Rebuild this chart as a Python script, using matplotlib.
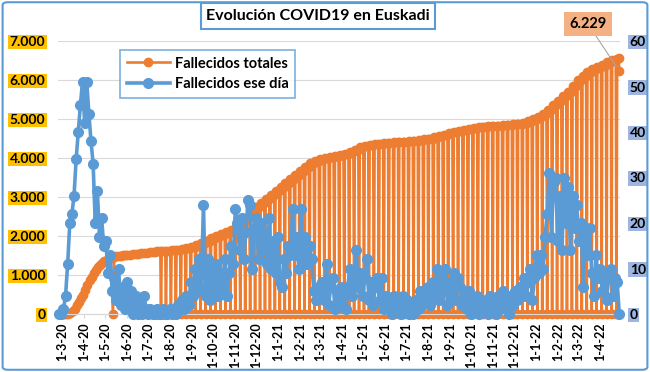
import matplotlib
matplotlib.use("Agg")
import matplotlib.pyplot as plt
from matplotlib.patches import FancyBboxPatch
import pandas as pd

plt.rcParams['font.family'] = ['Lato', 'DejaVu Sans']

# --- Fallecidos totales (eje izquierdo) ---
# primeros meses: dato diario continuo
fechas_inicio = ["2020-02-26", "2020-03-01", "2020-03-04", "2020-03-07", "2020-03-10",
                 "2020-03-13", "2020-03-16", "2020-03-19", "2020-03-22", "2020-03-25",
                 "2020-03-28", "2020-03-31", "2020-04-03", "2020-04-06", "2020-04-09",
                 "2020-04-12", "2020-04-15", "2020-04-18", "2020-04-21", "2020-04-24",
                 "2020-04-27", "2020-04-30", "2020-05-03", "2020-05-06", "2020-05-09",
                 "2020-05-12", "2020-05-14", "2020-05-17", "2020-05-20", "2020-05-23",
                 "2020-05-26", "2020-05-29", "2020-06-01", "2020-06-05", "2020-06-09",
                 "2020-06-13", "2020-06-17", "2020-06-21", "2020-06-25", "2020-06-29",
                 "2020-07-03", "2020-07-07", "2020-07-11"]
total_inicio = [0, 0, 0, 3, 12,
                35, 75, 140, 220, 310,
                400, 500, 620, 750, 860,
                960, 1050, 1130, 1200, 1260,
                1310, 1360, 1390, 1415, 1435,
                0, 1460, 1475, 1485, 1495,
                1505, 1510, 1515, 1520, 1530,
                1540, 1550, 1560, 1570, 1575,
                1585, 1595, 1600]

# desde julio 2020: un valor por semana (lunes a sabado), domingo sin dato -> 0
primer_lunes = "2020-07-13"
total_semanal = [1605, 1612, 1620, 1630, 1645, 1665, 1690, 1725, 1770, 1820,
                 1880, 1940, 1990, 2040, 2090, 2160, 2230, 2350, 2470, 2600,
                 2740, 2840, 2940, 3040, 3150, 3250, 3350, 3450, 3560, 3660,
                 3770, 3860, 3920, 3965, 3995, 4025, 4050, 4075, 4110, 4160,
                 4210, 4270, 4310, 4340, 4360, 4370, 4380, 4390, 4400, 4410,
                 4420, 4430, 4445, 4460, 4480, 4500, 4530, 4565, 4600, 4635,
                 4670, 4705, 4730, 4755, 4770, 4785, 4800, 4810, 4820, 4830,
                 4840, 4850, 4860, 4880, 4905, 4940, 4990, 5050, 5130, 5230,
                 5350, 5460, 5580, 5700, 5840, 5990, 6100, 6200, 6270, 6330,
                 6390, 6450, 6510]

fechas_final = ["2022-04-25", "2022-04-27", "2022-04-28"]
total_final = [6550, 6570, 6229]

# --- Fallecidos ese dia (eje derecho), un valor cada 3 dias desde 26-2-20 ---
inicio_dia = "2020-02-26"
fallecidos_dia = [
    0, 0, 1, 4, 11, 20, 22, 26, 34, 40, 46, 51, 42, 51, 44, 38, 33, 20, 27, 17,
    21, 15, 16, 9, 13, 5, 8, 3, 10, 2, 6, 1, 7, 2, 5, 0, 4, 0, 2, 0,
    4, 1, 0, 1, 0, 0, 1, 0, 0, 1, 0, 0, 1, 0, 1, 0, 2, 1, 3, 1,
    4, 2, 7, 4, 10, 5, 12, 6, 24, 4, 12, 3, 10, 5, 11, 4, 9, 6, 12, 4,
    9, 15, 11, 23, 20, 14, 21, 12, 18, 25, 24, 10, 19, 21, 12, 20, 14, 18, 11, 21,
    10, 16, 9, 17, 7, 6, 12, 9, 15, 13, 23, 13, 17, 10, 23, 12, 17, 11, 15, 12,
    5, 3, 6, 4, 7, 3, 11, 2, 6, 8, 1, 5, 2, 6, 4, 1, 6, 10, 4, 8,
    14, 6, 9, 4, 8, 12, 3, 7, 2, 6, 8, 3, 8, 1, 4, 2, 3, 0, 4, 1,
    3, 0, 4, 1, 3, 0, 2, 0, 3, 1, 5, 2, 5, 3, 6, 2, 7, 4, 10, 3,
    9, 5, 10, 2, 7, 4, 9, 3, 8, 6, 2, 5, 1, 5, 0, 3, 1, 4, 0, 3,
    1, 3, 0, 4, 1, 3, 0, 4, 1, 5, 2, 4, 0, 4, 2, 5, 3, 6, 4, 8,
    4, 7, 10, 3, 8, 13, 9, 13, 10, 17, 22, 31, 17, 29, 30, 16, 26, 14, 30, 20,
    28, 14, 26, 19, 24, 16, 20, 6, 19, 13, 19, 9, 4, 13, 8, 10, 5, 9, 3, 8,
    10, 4, 8, 7, 0]

NARANJA = "#ED7D31"
AZUL = "#5B9BD5"

# serie de totales
x_tot = list(pd.to_datetime(fechas_inicio))
y_tot = list(total_inicio)
lunes = pd.date_range(primer_lunes, periods=len(total_semanal), freq="7D")
for l, v in zip(lunes, total_semanal):
    x_tot += [l, l + pd.Timedelta(days=5), l + pd.Timedelta(days=6)]
    y_tot += [v, v, 0]
x_tot += list(pd.to_datetime(fechas_final))
y_tot += total_final

x_dia = pd.date_range(inicio_dia, periods=len(fallecidos_dia), freq="3D")

fig = plt.figure(figsize=(6.5, 3.72), dpi=100)
ax = fig.add_axes([58 / 650, 1 - 314 / 372, 562 / 650, 273 / 372])
ax2 = ax.twinx()

l1, = ax.plot(x_tot, y_tot, color=NARANJA, lw=1.9, marker="o", ms=6,
              label="Fallecidos totales", clip_on=False, zorder=3)
l2, = ax2.plot(x_dia, fallecidos_dia, color=AZUL, lw=2.6, marker="o", ms=7,
               label="Fallecidos ese día", clip_on=False, zorder=3)

ax.set_xlim(pd.Timestamp("2020-02-24 08:00"), pd.Timestamp("2022-04-29"))
ax.set_ylim(0, 7000)
ax2.set_ylim(0, 60)
ax.set_yticks(range(0, 7001, 1000))
ax.set_yticklabels([f"{v:,}".replace(",", ".") for v in range(0, 7001, 1000)])
ax2.set_yticks(range(0, 61, 10))

meses = pd.date_range("2020-03-01", "2022-04-01", freq="MS")
ax.set_xticks(meses)
ax.set_xticklabels([f"{d.day}-{d.month}-{d.strftime('%y')}" for d in meses],
                   rotation=90, fontsize=9, fontweight="bold")

ax.yaxis.grid(True, color="#D9D9D9", lw=0.8)
ax.set_axisbelow(True)
for a in (ax, ax2):
    for s in ("top", "left", "right"):
        a.spines[s].set_visible(False)
    a.spines["bottom"].set_color("#D9D9D9")
ax.tick_params(axis="x", length=3, color="#D9D9D9", pad=3)
ax.tick_params(axis="y", length=0, pad=9, labelsize=10)
ax2.tick_params(axis="y", length=0, pad=7, labelsize=10)
for t in ax.get_yticklabels():
    t.set_fontweight("bold")
    t.set_bbox(dict(fc="#FFC000", ec="none", pad=1))
for t in ax2.get_yticklabels():
    t.set_fontweight("bold")
    t.set_bbox(dict(fc="#9DB5E0", ec="none", pad=1))

leg = ax2.legend(handles=[l1, l2], loc="upper left",
                 bbox_to_anchor=(120 / 650, 1 - 50 / 372),
                 bbox_transform=fig.transFigure, fancybox=False,
                 prop={"weight": "bold", "size": 10.5}, handlelength=3.0,
                 handletextpad=0.3, borderpad=0.45, labelspacing=0.45,
                 borderaxespad=0)
leg.get_frame().set_edgecolor(AZUL)
leg.get_frame().set_linewidth(1.2)

fig.text(318 / 650, 1 - 16 / 372, "Evolución COVID19 en Euskadi",
         ha="center", va="center", fontsize=11.5, fontweight="bold",
         bbox=dict(boxstyle="square,pad=0.35", fc="white", ec=AZUL, lw=1.5))

ax.annotate(f"{total_final[-1]:,}".replace(",", "."),
            xy=(x_tot[-1], y_tot[-1]),
            xytext=(588 / 650, 1 - 24 / 372), textcoords="figure fraction",
            ha="center", va="center", fontsize=10.5, fontweight="bold",
            bbox=dict(boxstyle="square,pad=0.35", fc="#F4B183", ec="none"),
            arrowprops=dict(arrowstyle="-", color="#A6A6A6", lw=0.8,
                            shrinkA=0, shrinkB=4))

borde = FancyBboxPatch((0.004, 0.006), 0.992, 0.988, transform=fig.transFigure,
                       boxstyle="round,pad=0,rounding_size=0.008",
                       fc="none", ec=AZUL, lw=1.5)
fig.patches.append(borde)

fig.savefig("out.png", dpi=100)
